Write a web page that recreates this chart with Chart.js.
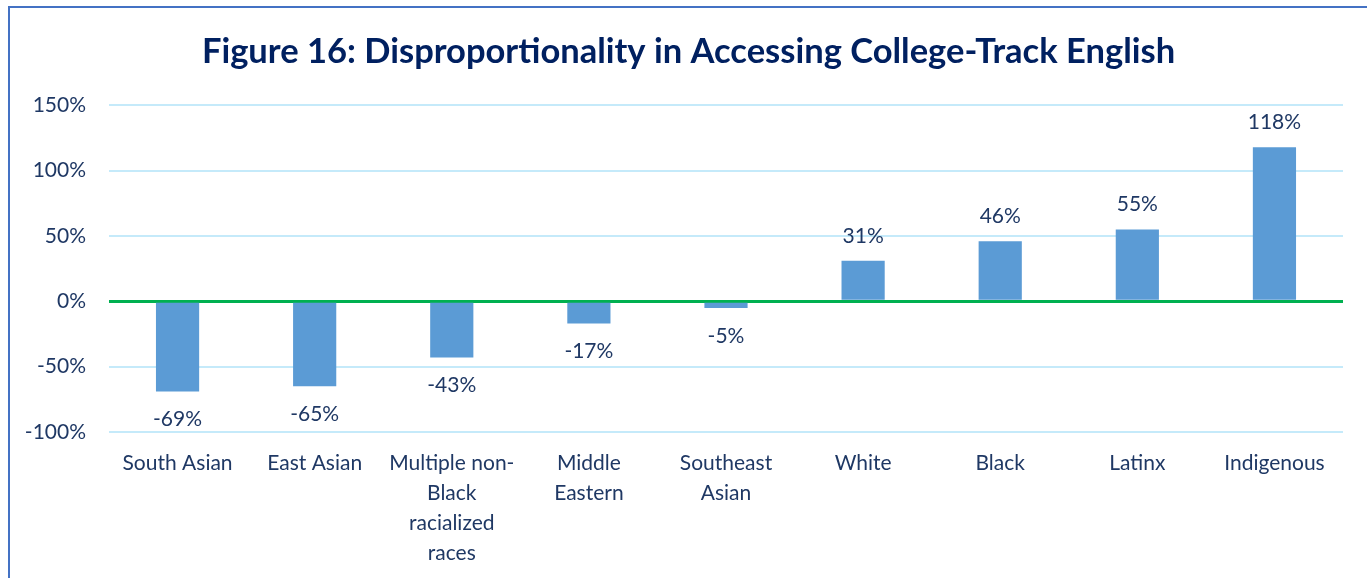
<!DOCTYPE html>
<html>
<head>
<meta charset="utf-8">
<script src="https://cdn.jsdelivr.net/npm/chart.js@4"></script>
<style>
    html, body { margin: 0; padding: 0; background: #fff; }
    #frame {
        position: absolute; left: 8px; top: 6px;
        width: 1359px; height: 572px;
        border-left: 2px solid #4472C4; border-top: 2px solid #4472C4;
    }
    #wrap { position: relative; width: 1357px; height: 570px; }
</style>
</head>
<body>
<div id="frame"><div id="wrap"><canvas id="disproChart"></canvas></div></div>
<script>
'use strict';

// Data
const groups = [
    'South Asian', 'East Asian', ['Multiple non-', 'Black', 'racialized', 'races'],
    ['Middle', 'Eastern'], ['Southeast', 'Asian'], 'White', 'Black', 'Latinx', 'Indigenous'
];
const disproportionality = [-69, -65, -43, -17, -5, 31, 46, 55, 118];
const yTicks = [-100, -50, 0, 50, 100, 150];

const navy = '#1F3864';
const font = 'Lato, Calibri, "Open Sans", sans-serif';

// Popisky hodnot nad/pod sloupci
const valueLabels = {
    id: 'valueLabels',
    afterDatasetsDraw: (chart) => {
        const ctx = chart.ctx;
        const meta = chart.getDatasetMeta(0);
        ctx.save();
        ctx.font = '21px ' + font;
        ctx.fillStyle = navy;
        ctx.textAlign = 'center';
        ctx.textBaseline = 'middle';
        meta.data.forEach((bar, i) => {
            const v = disproportionality[i];
            const y = v >= 0 ? bar.y - 25 : bar.y + 28;
            ctx.fillText(v + '%', bar.x, y);
        });
        ctx.restore();
    }
};

new Chart(document.getElementById('disproChart').getContext('2d'), {
    type: 'bar',
    data: {
        labels: groups,
        datasets: [{
            data: disproportionality,
            backgroundColor: '#5B9BD5',
            borderWidth: 0,
            categoryPercentage: 1,
            barPercentage: 0.315
        }]
    },
    options: {
        responsive: true,
        maintainAspectRatio: false,
        animation: false,
        layout: { padding: 0 },
        scales: {
            y: {
                min: -100,
                max: 150,
                afterBuildTicks: (axis) => { axis.ticks = yTicks.map(v => ({ value: v })); },
                afterFit: (axis) => { axis.width = 99; },
                ticks: {
                    color: navy,
                    font: { family: font, size: 21 },
                    padding: 23,
                    callback: (value) => value + '%'
                },
                grid: {
                    color: (c) => c.tick.value === 0 ? '#00B050' : '#C5EAFA',
                    lineWidth: (c) => c.tick.value === 0 ? 3 : 2,
                    drawTicks: false
                },
                border: { display: false }
            },
            // prázdná pravá osa jen jako okraj
            yRight: {
                position: 'right',
                min: -100,
                max: 150,
                afterFit: (axis) => { axis.width = 24; },
                ticks: { display: false },
                grid: { display: false },
                border: { display: false }
            },
            x: {
                afterFit: (axis) => { axis.height = 146; },
                ticks: {
                    color: navy,
                    font: { family: font, size: 21, lineHeight: 1.43 },
                    padding: 8,
                    maxRotation: 0,
                    autoSkip: false
                },
                grid: { display: false },
                border: { display: false }
            }
        },
        plugins: {
            legend: { display: false },
            tooltip: { enabled: false },
            title: {
                display: true,
                text: 'Figure 16: Disproportionality in Accessing College-Track English',
                color: '#002060',
                font: { family: font, size: 34.5, weight: 'bold', lineHeight: 1.2 },
                padding: { top: 23, bottom: 33 }
            }
        }
    },
    plugins: [valueLabels]
});
</script>
</body>
</html>
